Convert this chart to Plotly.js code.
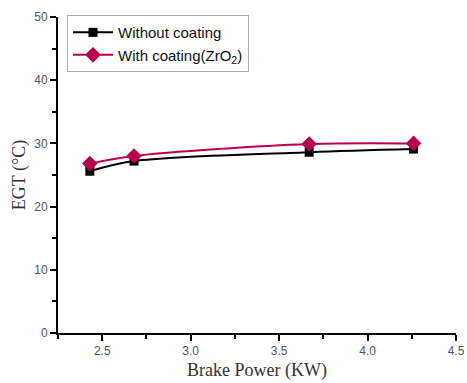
<!DOCTYPE html>
<html>
<head>
<meta charset="utf-8">
<script src="https://cdn.plot.ly/plotly-3.0.1.min.js"></script>
<style>html,body{margin:0;padding:0;background:#fff}#chart{width:467px;height:383px}</style>
</head>
<body>
<div id="chart"></div>
<script>
var brakePower = [2.43, 2.68, 3.67, 4.26];
var egtWithout = [25.6, 27.2, 28.6, 29.1];
var egtWith = [26.8, 28.0, 29.9, 30.0];
var seriesNames = ["Without coating", "With coating(ZrO<sub>2</sub>)"];

var traces = [
  {x: brakePower, y: egtWithout, name: seriesNames[0], mode: "lines+markers",
   line: {color: "#000000", width: 2, shape: "spline", smoothing: 0.9},
   marker: {symbol: "square", size: 9, color: "#000000"}},
  {x: brakePower, y: egtWith, name: seriesNames[1], mode: "lines+markers",
   line: {color: "#b8004f", width: 2, shape: "spline", smoothing: 0.9},
   marker: {symbol: "diamond", size: 12, color: "#b8004f"}}
];

var tickFont = {family: "Liberation Sans, Arial, sans-serif", size: 12, color: "#555555"};
var titleFont = {family: "Liberation Serif, Times New Roman, serif", size: 18, color: "#333"};
var layout = {
  width: 467, height: 383,
  margin: {l: 58, r: 11, t: 17, b: 50},
  paper_bgcolor: "#ffffff", plot_bgcolor: "#ffffff",
  showlegend: true,
  legend: {x: 0.0226, y: 1.006, xanchor: "left", yanchor: "top",
           bgcolor: "#ffffff", bordercolor: "#aaaaaa", borderwidth: 1,
           font: {family: "Liberation Sans, Arial, sans-serif", size: 15, color: "#111"},
           tracegroupgap: 0, itemwidth: 40},
  xaxis: {range: [2.25, 4.5], dtick: 0.5, tick0: 2.5, tickformat: ".1f",
          showgrid: false, zeroline: false, showline: true, linecolor: "#000", linewidth: 2,
          ticks: "outside", ticklen: 6, tickwidth: 2, tickcolor: "#000",
          minor: {dtick: 0.25, tick0: 2.25, ticklen: 4, tickwidth: 2, tickcolor: "#000", ticks: "outside", showgrid: false},
          tickfont: tickFont,
          title: {text: "Brake Power (KW)", font: titleFont, standoff: 6}},
  yaxis: {range: [0, 50], dtick: 10, tick0: 0,
          showgrid: false, zeroline: false, showline: true, linecolor: "#000", linewidth: 2,
          ticks: "outside", ticklen: 6, tickwidth: 2, tickcolor: "#000",
          minor: {dtick: 5, ticklen: 4, tickwidth: 2, tickcolor: "#000", ticks: "outside", showgrid: false},
          tickfont: tickFont,
          title: {text: "EGT (°C)", font: titleFont, standoff: 4}}
};
Plotly.newPlot("chart", traces, layout, {displayModeBar: false, staticPlot: true});
</script>
</body>
</html>
